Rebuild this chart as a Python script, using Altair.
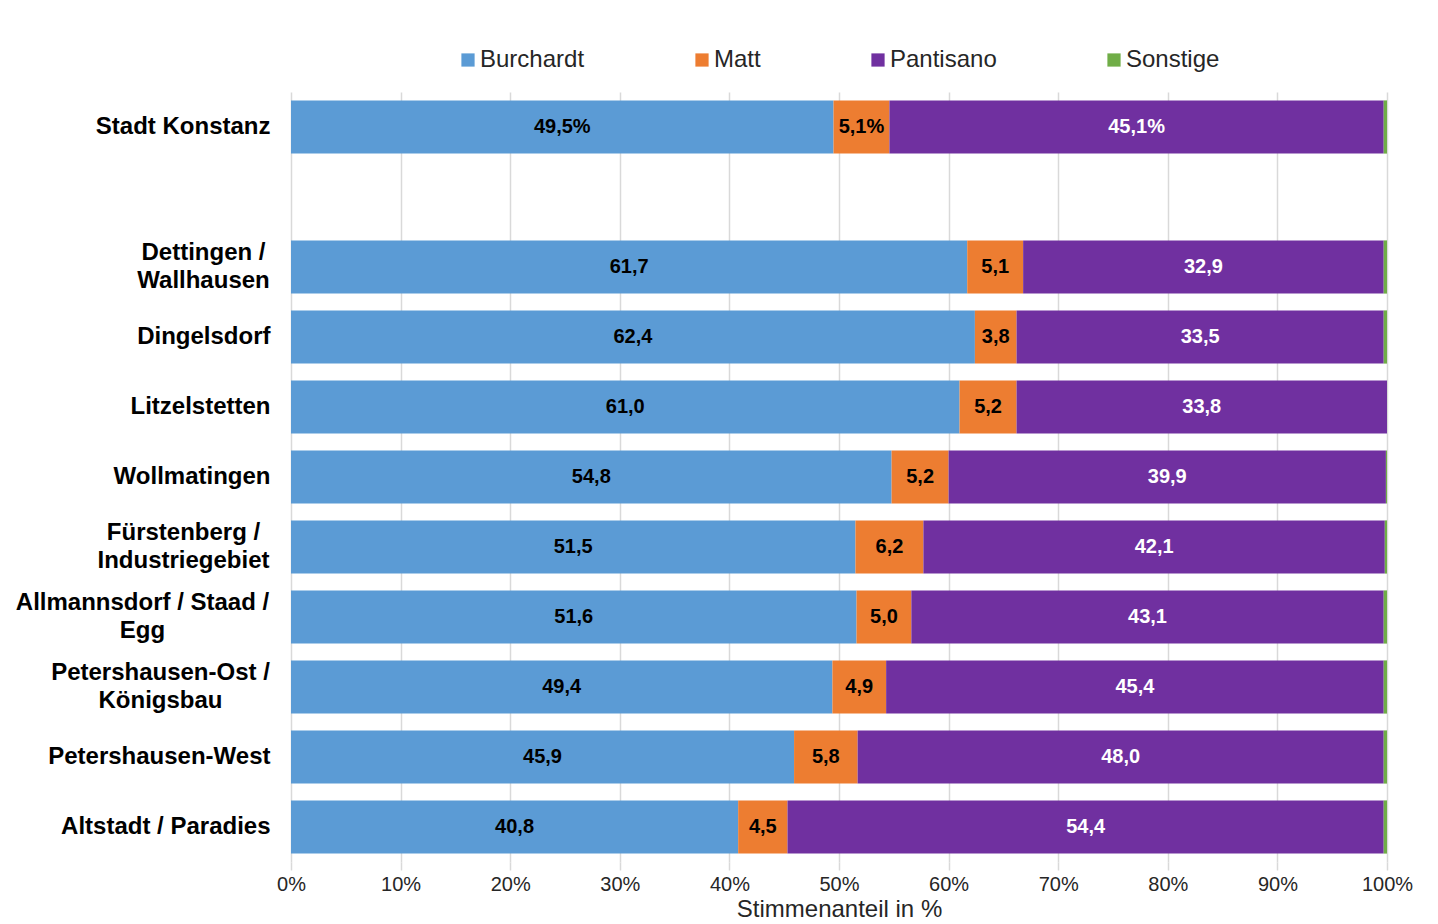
import altair as alt
import pandas as pd

regions = ["Stadt Konstanz", "Dettingen /|Wallhausen", "Dingelsdorf", "Litzelstetten",
           "Wollmatingen", "Fürstenberg /|Industriegebiet", "Allmannsdorf / Staad /|Egg",
           "Petershausen-Ost /|Königsbau", "Petershausen-West", "Altstadt / Paradies"]
burchardt = [49.5, 61.7, 62.4, 61.0, 54.8, 51.5, 51.6, 49.4, 45.9, 40.8]
matt = [5.1, 5.1, 3.8, 5.2, 5.2, 6.2, 5.0, 4.9, 5.8, 4.5]
pantisano = [45.1, 32.9, 33.5, 33.8, 39.9, 42.1, 43.1, 45.4, 48.0, 54.4]
sonstige = [0.3, 0.3, 0.3, 0.0, 0.1, 0.2, 0.3, 0.3, 0.3, 0.3]

parties = ["Burchardt", "Matt", "Pantisano", "Sonstige"]
colors = ["#5B9BD5", "#ED7D31", "#7030A0", "#70AD47"]
series = [burchardt, matt, pantisano, sonstige]

y_domain = [regions[0], "gap"] + regions[1:]

rows = []
for pi, (p, vals) in enumerate(zip(parties, series)):
    for ri, (r, v) in enumerate(zip(regions, vals)):
        rows.append({"region": r, "party": p, "order": pi, "value": v,
                     "pct": 1 if ri == 0 else 0})
df = pd.DataFrame(rows)

FONT = "Liberation Sans"

# label layout: two-line labels are centred line by line, block right-aligned
pad_two = {
    "Dettingen /|Wallhausen": 88,
    "Fürstenberg /|Industriegebiet": 108,
    "Allmannsdorf / Staad /|Egg": 149,
    "Petershausen-Ost /|Königsbau": 131,
}
pad_cond = [{"test": f"datum.value == '{k}'", "value": v} for k, v in pad_two.items()]
multi_test = "indexof(datum.value, '|') >= 0"

base = alt.Chart(df).transform_stack(
    stack="value", groupby=["region"], as_=["x0", "x1"],
    sort=[alt.SortField("order", order="ascending")]
)

yaxis = alt.Axis(
    title=None,
    labelExpr="datum.label == 'gap' ? '' : split(datum.label, '|')",
    labelFont=FONT, labelFontSize=24, labelFontWeight="bold",
    labelColor="#000000", labelLineHeight=28,
    labelPadding={"condition": pad_cond, "value": 21},
    labelAlign={"condition": {"test": multi_test, "value": "center"}, "value": "right"},
    labelOffset={"condition": {"test": multi_test, "value": -14}, "value": 0},
    ticks=False, domain=False, labelLimit=400,
)

ycfg = alt.Y("region:N", scale=alt.Scale(domain=y_domain, paddingInner=0.24, paddingOuter=0.12),
             axis=yaxis)

bars = base.mark_bar().encode(
    y=ycfg,
    x=alt.X("x0:Q", scale=alt.Scale(domain=[0, 100], nice=False),
            axis=alt.Axis(title="Stimmenanteil in %", values=list(range(0, 101, 10)),
                          labelExpr="datum.value + '%'", labelFont=FONT, labelFontSize=20,
                          labelColor="#262626", labelFlush=False,
                          titleFont=FONT, titleFontSize=24,
                          titleFontWeight="normal", titleColor="#262626", titlePadding=3,
                          grid=True, gridColor="#D9D9D9", gridWidth=1.5, domain=False,
                          ticks=True, tickColor="#D9D9D9", tickSize=8, tickWidth=1.5,
                          labelPadding=4)),
    x2="x1:Q",
    color=alt.Color("party:N", scale=alt.Scale(domain=parties, range=colors),
                    legend=alt.Legend(title=None, orient="none", direction="horizontal",
                                      legendX=165, legendY=-44, columnPadding=105,
                                      symbolType="square", symbolSize=175,
                                      symbolStrokeWidth=0, labelFont=FONT,
                                      labelFontSize=24, labelColor="#262626",
                                      labelOffset=0, labelLimit=300)),
    order=alt.Order("order:Q"),
)

texts = base.transform_filter("datum.party != 'Sonstige'").transform_calculate(
    mid="(datum.x0 + datum.x1) / 2",
    label="replace(format(datum.value, '.1f'), '.', ',') + (datum.pct == 1 ? '%' : '')",
).mark_text(font=FONT, fontSize=20, fontWeight="bold", baseline="middle", align="center").encode(
    y=alt.Y("region:N", scale=alt.Scale(domain=y_domain)),
    x=alt.X("mid:Q"),
    text="label:N",
    color=alt.condition("datum.party == 'Pantisano'", alt.value("#FFFFFF"), alt.value("#000000")),
)

chart = alt.layer(bars, texts).properties(
    width=1096, height=770,
    background="#FFFFFF",
    autosize=alt.AutoSizeParams(type="none"),
    padding={"left": 283, "top": 84, "right": 43, "bottom": 70},
).configure_view(stroke=None)

chart.save("out.html", embed_options={"renderer": "svg", "actions": False})
